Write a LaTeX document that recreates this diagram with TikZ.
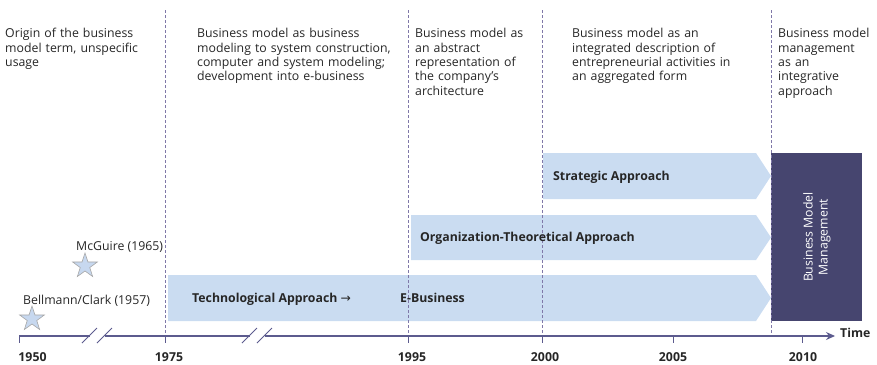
\documentclass[tikz,border=0pt]{standalone}
\usepackage{fontspec}
\setmainfont{Open Sans}
\newfontfamily\dejavu{DejaVu Sans}
\usetikzlibrary{shapes.geometric,arrows.meta}
\definecolor{txt}{HTML}{262626}
\definecolor{barblue}{HTML}{CADCF1}
\definecolor{bmmfill}{HTML}{46456F}
\definecolor{axisc}{HTML}{5C5B8E}
\definecolor{dashc}{HTML}{7F78A8}
\definecolor{starfill}{HTML}{C7D8EF}
\definecolor{stardraw}{HTML}{A6A6A6}
\begin{document}
\begin{tikzpicture}[x=1pt,y=-1pt,
  colnote/.style={anchor=base west, inner sep=0pt, text width=220pt, align=left,
    font=\fontsize{12.3}{14.5}\selectfont, text=txt},
  barlabel/.style={anchor=base west, inner sep=0pt, font=\fontsize{12.3}{14.5}\selectfont\bfseries, text=txt},
  yearlabel/.style={anchor=base, inner sep=0pt, font=\fontsize{12.3}{14.5}\selectfont\bfseries, text=txt},
  starlabel/.style={anchor=base west, inner sep=0pt, font=\fontsize{12.3}{14.5}\selectfont, text=txt},
  barshape/.style={fill=barblue, draw=none},
  epoch/.style={draw=dashc, dash pattern=on 3pt off 2pt, line width=0.8pt},
  axisline/.style={draw=axisc, line width=1.2pt},
  tickmark/.style={draw=axisc, line width=1pt},
  slash/.style={draw=axisc, line width=0.8pt},
  starmark/.style={star, star points=5, star point ratio=2.6, minimum size=26pt, inner sep=0pt,
    fill=starfill, draw=stardraw, line width=0.6pt}]
\useasboundingbox (0,0) rectangle (877,364);

% bars (chevrons)
\fill[barshape] (168,275) -- (756,275) -- (771,298) -- (756,321) -- (168,321) -- cycle;
\fill[barshape] (411,215) -- (756,215) -- (771,237.5) -- (756,260) -- (411,260) -- cycle;
\fill[barshape] (543,153) -- (756,153) -- (771,176) -- (756,199) -- (543,199) -- cycle;

% business model management box
\node[fill=bmmfill, draw=none, minimum width=91pt, minimum height=168pt, inner sep=0pt, anchor=north west] (bmm) at (771,153) {};
\node[rotate=90, align=center, text=white, font=\fontsize{12.3}{15}\selectfont, inner sep=0pt] (bmmtext) at (817,237) {Business Model\\Management};

% epoch dashed lines
\coordinate (e1t) at (165,10); \coordinate (e1b) at (165,336);
\coordinate (e2t) at (408,10); \coordinate (e2b) at (408,336);
\coordinate (e3t) at (542,10); \coordinate (e3b) at (542,336);
\coordinate (e4t) at (771,10); \coordinate (e4b) at (771,336);
\draw[epoch] (e1t) -- (e1b);
\draw[epoch] (e2t) -- (e2b);
\draw[epoch] (e3t) -- (e3b);
\draw[epoch] (e4t) -- (e4b);

% axis
\coordinate (a0) at (19,336);
\coordinate (a1) at (89.5,336);
\coordinate (a2) at (104.5,336);
\coordinate (a3) at (249.5,336);
\coordinate (a4) at (264.5,336);
\coordinate (aend) at (835,336);
\draw[axisline] (a0) -- (a1);
\draw[axisline] (a2) -- (a3);
\draw[axisline, -{Stealth[length=9pt,width=8pt]}] (a4) -- (aend);
\draw[slash] (82,343) -- (97,328);
\draw[slash] (97,343) -- (112,328);
\draw[slash] (242,343) -- (257,328);
\draw[slash] (257,343) -- (272,328);

% ticks
\foreach \x in {19,165,408,542,673,802} {
  \draw[tickmark] (\x,336) -- (\x,343);
}

% year labels
\node[yearlabel] (y1950) at (32.5,361.5) {1950};
\node[yearlabel] (y1975) at (169,361.5) {1975};
\node[yearlabel] (y1995) at (412,361.5) {1995};
\node[yearlabel] (y2000) at (545,361.5) {2000};
\node[yearlabel] (y2005) at (673,361.5) {2005};
\node[yearlabel] (y2010) at (803,361.5) {2010};
\node[barlabel] (time) at (840,337.3) {Time};

% stars
\node[starmark] (s1) at (32,319) {};
\node[starmark] (s2) at (85,266) {};
\node[starlabel] (l1) at (23,304) {Bellmann/Clark (1957)};
\node[starlabel] (l2) at (76,250.7) {McGuire (1965)};

% bar labels
\node[barlabel] (tech) at (192,302.3) {Technological Approach {\dejavu\mdseries →}};
\node[barlabel] (ebiz) at (400,302.3) {E-Business};
\node[barlabel] (org) at (420,241.7) {Organization-Theoretical Approach};
\node[barlabel] (strat) at (553,180.7) {Strategic Approach};

% column notes
\node[colnote] (c1) at (5,37.5) {Origin of the business\\model term, unspecific\\usage};
\node[colnote] (c2) at (197,37.5) {Business model as business\\modeling to system construction,\\computer and system modeling;\\development into e-business};
\node[colnote] (c3) at (415,37.5) {Business model as\\an abstract\\representation of\\the company's\\architecture};
\node[colnote] (c4) at (572,37.5) {Business model as an\\integrated description of\\entrepreneurial activities in\\an aggregated form};
\node[colnote] (c5) at (778,37.5) {Business model\\management\\as an\\integrative\\approach};
\end{tikzpicture}
\end{document}
